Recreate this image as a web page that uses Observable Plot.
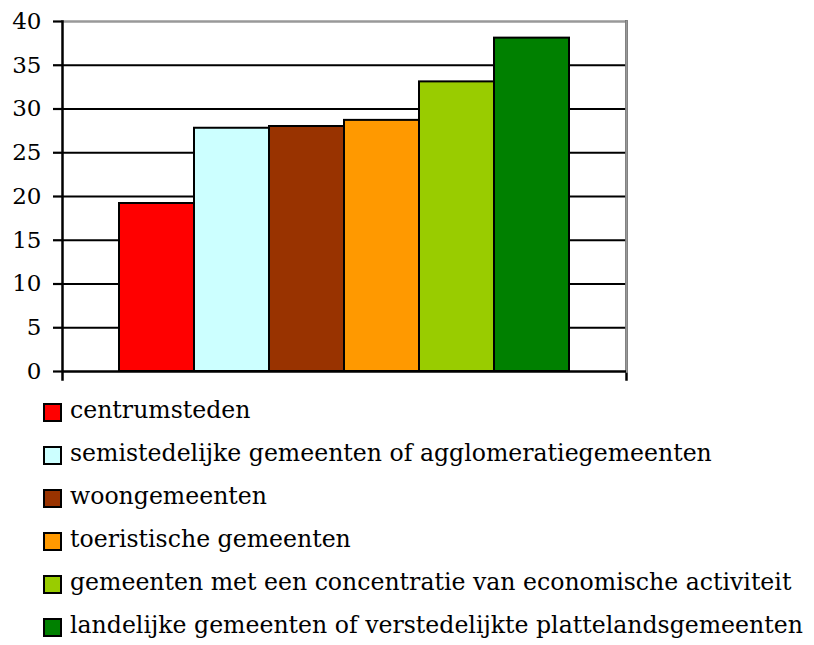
<!DOCTYPE html>
<html>
<head>
<meta charset="utf-8">
<script src="https://cdn.jsdelivr.net/npm/d3@7"></script>
<script src="https://cdn.jsdelivr.net/npm/@observablehq/plot@0.6"></script>
<style>
  html, body { margin: 0; padding: 0; background: white; }
  #wrap { position: relative; width: 814px; height: 645px; }
  #legend { position: absolute; left: 0; top: 391px; font-family: "DejaVu Serif", "Liberation Serif", serif; font-size: 23.6px; color: #000; }
  .row { position: relative; height: 43px; white-space: nowrap; }
  .sw { position: absolute; left: 43px; top: 12px; width: 15px; height: 15px; border: 2px solid #000; }
  .lbl { position: absolute; left: 70px; top: 2px; line-height: 34px; }
</style>
</head>
<body>
<div id="wrap"><div id="chart"></div><div id="legend"></div></div>
<script>
const categories = [
  "centrumsteden",
  "semistedelijke gemeenten of agglomeratiegemeenten",
  "woongemeenten",
  "toeristische gemeenten",
  "gemeenten met een concentratie van economische activiteit",
  "landelijke gemeenten of verstedelijkte plattelandsgemeenten"
];
const values = [19.2, 27.8, 28.0, 28.7, 33.1, 38.1];
const colors = ["#FF0000", "#CCFFFF", "#993300", "#FF9900", "#99CC00", "#008000"];
const yTicks = [0, 5, 10, 15, 20, 25, 30, 35, 40];

const data = categories.map((c, i) => ({cat: c, value: values[i], color: colors[i]}));

const chart = Plot.plot({
  width: 814,
  height: 390,
  marginLeft: 62,
  marginRight: 188,
  marginTop: 21,
  marginBottom: 19,
  style: {fontFamily: "'DejaVu Serif', 'Liberation Serif', serif", background: "white", color: "black"},
  x: {domain: categories, paddingInner: 0, paddingOuter: 0.75, axis: null},
  y: {domain: [0, 40], axis: null},
  color: {type: "identity"},
  marks: [
    Plot.ruleY(yTicks.filter(t => t > 0 && t < 40), {stroke: "black", strokeWidth: 2.2}),
    Plot.ruleY([40], {stroke: "#999", strokeWidth: 2.5}),
    Plot.frame({anchor: "right", stroke: "black", strokeWidth: 2.5, insetBottom: -8}),
    Plot.frame({anchor: "right", stroke: "#999", strokeWidth: 2.5}),
    Plot.barY(data, {x: "cat", y: "value", fill: "color", stroke: "black", strokeWidth: 2}),
    Plot.ruleY([0], {stroke: "black", strokeWidth: 2.5}),
    Plot.frame({anchor: "left", stroke: "black", strokeWidth: 2.5, insetBottom: -8}),
    Plot.axisY({ticks: yTicks, label: null, tickSize: 9, tickPadding: 12, strokeWidth: 2.2, stroke: "black", fill: "black", fontSize: 23})
  ]
});
document.getElementById("chart").appendChild(chart);

const legend = d3.select("#legend");
categories.forEach((c, i) => {
  const row = legend.append("div").attr("class", "row");
  row.append("div").attr("class", "sw").style("background", colors[i]);
  row.append("div").attr("class", "lbl").text(c);
});
</script>
</body>
</html>
